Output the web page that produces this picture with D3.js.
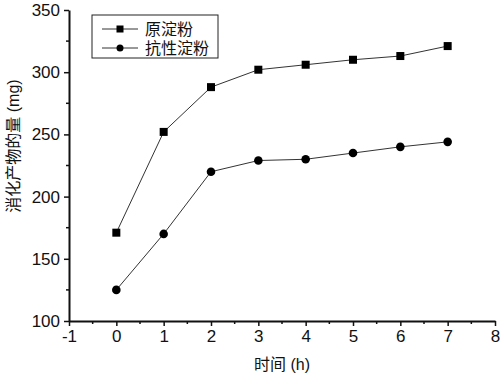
<!DOCTYPE html>
<html>
<head>
<meta charset="utf-8">
<script src="https://cdn.jsdelivr.net/npm/d3@7"></script>
<style>
  html, body { margin: 0; padding: 0; background: #fff; overflow: hidden; }
  svg { display: block; }
  text { font-family: "Liberation Sans", Arial, "Noto Sans CJK SC", sans-serif; fill: #111; }
</style>
</head>
<body>
<svg id="canvas"></svg>
<script>
const hours = [0, 1, 2, 3, 4, 5, 6, 7];
const rawStarch = [171, 252, 288, 302, 306, 310, 313, 321];
const resistantStarch = [125, 170, 220, 229, 230, 235, 240, 244];
const seriesNames = ["原淀粉", "抗性淀粉"];
const xTicks = [-1, 0, 1, 2, 3, 4, 5, 6, 7, 8];
const yTicks = [100, 150, 200, 250, 300, 350];

const width = 500;
const height = 378;
const margin = { top: 10, right: 5, bottom: 57, left: 69 };
const innerWidth = width - margin.left - margin.right;
const innerHeight = height - margin.top - margin.bottom;

const svg = d3.select("#canvas").attr("width", width).attr("height", height);
const mainGroup = svg.append("g").attr("transform", `translate(${margin.left}, ${margin.top})`);

const xScale = d3.scaleLinear().domain([-1, 8]).range([0, 426]);
const yScale = d3.scaleLinear().domain([100, 350]).range([innerHeight, 0]);

// minor ticks
const xMinor = d3.range(-0.5, 8, 1);
const yMinor = d3.range(125, 350, 50);

const xGroup = mainGroup.append("g").attr("transform", `translate(0, ${innerHeight})`);
xGroup.call(d3.axisBottom(xScale).tickValues(xTicks).tickFormat(d => String(d)).tickSize(5).tickSizeOuter(0).tickPadding(4))
    .call(g => g.select(".domain").attr("stroke", "#111").attr("stroke-width", 2))
    .call(g => g.selectAll(".tick line").attr("stroke", "#111").attr("stroke-width", 1.5))
    .call(g => g.selectAll(".tick text").style("font-size", "17px"));
xGroup.selectAll(".minor").data(xMinor).join("line")
    .attr("x1", d => xScale(d)).attr("x2", d => xScale(d))
    .attr("y1", 0).attr("y2", 3)
    .attr("stroke", "#111").attr("stroke-width", 1.5);

const yGroup = mainGroup.append("g");
yGroup.call(d3.axisLeft(yScale).tickValues(yTicks).tickSize(5).tickSizeOuter(0).tickPadding(4))
    .call(g => g.select(".domain").attr("stroke", "#111").attr("stroke-width", 2))
    .call(g => g.selectAll(".tick line").attr("stroke", "#111").attr("stroke-width", 1.5))
    .call(g => g.selectAll(".tick text").style("font-size", "17px"));
yGroup.selectAll(".minor").data(yMinor).join("line")
    .attr("x1", 0).attr("x2", -3)
    .attr("y1", d => yScale(d)).attr("y2", d => yScale(d))
    .attr("stroke", "#111").attr("stroke-width", 1.5);

// axis titles
svg.append("text")
    .attr("x", 282).attr("y", 370)
    .style("font-size", "16px")
    .style("text-anchor", "middle")
    .text("时间 (h)");
svg.append("text")
    .attr("transform", `translate(19, 146) rotate(-90)`)
    .style("font-size", "16px")
    .style("text-anchor", "middle")
    .text("消化产物的量 (mg)");

const line = d3.line().x((d, i) => xScale(hours[i])).y(d => yScale(d));

mainGroup.append("path").datum(rawStarch)
    .attr("d", line).attr("fill", "none").attr("stroke", "#333").attr("stroke-width", 1);
mainGroup.append("path").datum(resistantStarch)
    .attr("d", line).attr("fill", "none").attr("stroke", "#333").attr("stroke-width", 1);

mainGroup.selectAll(".sq").data(rawStarch).join("rect")
    .attr("x", (d, i) => xScale(hours[i]) - 4)
    .attr("y", d => yScale(d) - 4)
    .attr("width", 8).attr("height", 8)
    .attr("fill", "#000");
mainGroup.selectAll(".dot").data(resistantStarch).join("circle")
    .attr("cx", (d, i) => xScale(hours[i]))
    .attr("cy", d => yScale(d))
    .attr("r", 4.3)
    .attr("fill", "#000");

// legend
const legend = svg.append("g").attr("transform", "translate(92, 15)");
legend.append("rect")
    .attr("width", 126).attr("height", 43)
    .attr("fill", "#fff").attr("stroke", "#222").attr("stroke-width", 1);
seriesNames.forEach((name, i) => {
    const y = 14 + i * 19;
    legend.append("line").attr("x1", 10).attr("x2", 46).attr("y1", y).attr("y2", y)
        .attr("stroke", "#333").attr("stroke-width", 1);
    if (i === 0) {
        legend.append("rect").attr("x", 24.5).attr("y", y - 3.5).attr("width", 7).attr("height", 7).attr("fill", "#000");
    } else {
        legend.append("circle").attr("cx", 28).attr("cy", y).attr("r", 3.5).attr("fill", "#000");
    }
    legend.append("text").attr("x", 53).attr("y", y + 6)
        .style("font-size", "16px")
        .text(name);
});
</script>
</body>
</html>
